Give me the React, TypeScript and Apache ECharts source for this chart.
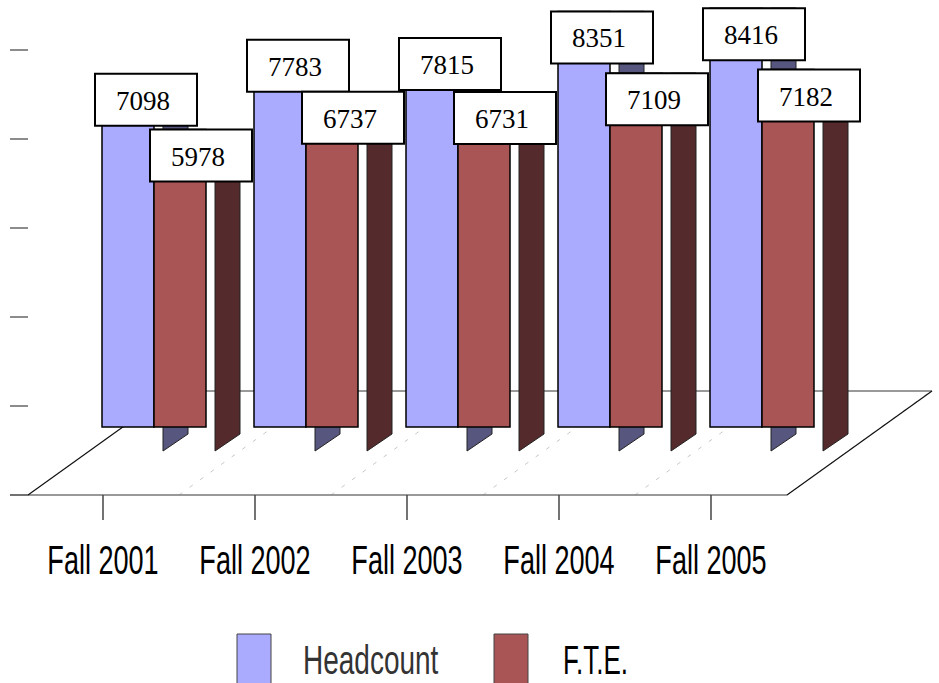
import React, { useEffect, useRef } from 'react';
import * as echarts from 'echarts';

const categories = ['Fall 2001', 'Fall 2002', 'Fall 2003', 'Fall 2004', 'Fall 2005'];
const headcount = [7098, 7783, 7815, 8351, 8416];
const fte = [5978, 6737, 6731, 7109, 7182];
const seriesNames = ['Headcount', 'F.T.E.'];
const seriesColors = ['#AAAAFF', '#AA5555'];

const SANS = "'Liberation Sans', Arial, sans-serif";
const SERIF = "'Liberation Serif', 'Times New Roman', serif";

function barRenderer(offset: number, front: string, topFace: string, side: string) {
  return (params: any, api: any) => {
    const i = api.value(0);
    const v = api.value(1);
    const p = api.coord([i, v]);
    const x = p[0];
    const yTop = p[1];
    const yBase = api.coord([i, 0])[1];
    const w = 52;
    const x0 = x + offset;
    const r = x0 + w;
    return {
      type: 'group',
      children: [
        {
          type: 'polygon',
          shape: { points: [[r + 9, yTop], [r + 34, yTop], [r + 34, yBase + 7], [r + 9, yBase + 24]] },
          style: { fill: side, stroke: '#222', lineWidth: 1 },
        },
        {
          type: 'polygon',
          shape: { points: [[r, yTop], [r + 34, yTop], [r + 9, yTop + 17], [r, yTop + 17]] },
          style: { fill: topFace, stroke: '#222', lineWidth: 1 },
        },
        {
          type: 'rect',
          shape: { x: x0, y: yTop, width: w, height: yBase - yTop },
          style: { fill: front, stroke: '#000', lineWidth: 1.5 },
        },
      ],
    };
  };
}

function labelRenderer(params: any, api: any) {
  const i = api.value(0);
  const x = api.coord([i, 0])[0];
  const mk = (cx: number, v: number) => {
    const yt = api.coord([i, v])[1];
    return [
      {
        type: 'rect',
        shape: { x: cx - 51, y: yt, width: 102, height: 52 },
        style: { fill: '#fff', stroke: '#000', lineWidth: 2 },
      },
      {
        type: 'text',
        x: cx - 3,
        y: yt + 27,
        style: {
          text: String(v),
          fontSize: 27,
          fontFamily: SERIF,
          fill: '#000',
          align: 'center',
          verticalAlign: 'middle',
        },
      },
    ];
  };
  return {
    type: 'group',
    children: [...mk(x + 43, api.value(1)), ...mk(x + 98, api.value(2))],
  };
}

function categoryLabelRenderer(params: any, api: any) {
  const i = api.value(0);
  const x = api.coord([i, 0])[0];
  return {
    type: 'text',
    x,
    y: 560,
    scaleX: 0.66,
    style: {
      text: categories[i],
      fontSize: 41,
      fontFamily: SANS,
      fill: '#000',
      align: 'center',
      verticalAlign: 'middle',
    },
  };
}

export default function App() {
  const ref = useRef<HTMLDivElement>(null);
  useEffect(() => {
    if (!ref.current) return;
    const chart = echarts.init(ref.current, null, { renderer: 'svg' });
    const floorDashes = [0, 1, 2, 3, 4].map((k) => ({
      type: 'line',
      z: -5,
      shape: { x1: 179 + 152 * k, y1: 495, x2: 179 + 152 * k + 144, y2: 391 },
      style: { stroke: '#c8c8c8', lineWidth: 1, lineDash: [4, 9] },
    }));
    const legendX = [237, 494];
    const legendTextX = [303, 563];
    const legendScale = [0.7, 0.65];
    const legendTextColor = ['#333', '#000'];
    const legendItems: any[] = [];
    seriesNames.forEach((name, k) => {
      legendItems.push({
        type: 'rect',
        z: 10,
        shape: { x: legendX[k], y: 634, width: 34, height: 56 },
        style: { fill: seriesColors[k], stroke: '#444', lineWidth: 1 },
      });
      legendItems.push({
        type: 'text',
        z: 10,
        x: legendTextX[k],
        y: 660,
        scaleX: legendScale[k],
        style: {
          text: name,
          fontSize: 40,
          fontFamily: SANS,
          fill: legendTextColor[k],
          align: 'left',
          verticalAlign: 'middle',
        },
      });
    });
    chart.setOption({
      animation: false,
      backgroundColor: '#fff',
      graphic: [
        ...floorDashes,
        { type: 'line', z: -5, shape: { x1: 173, y1: 391, x2: 932, y2: 391 }, style: { stroke: '#777', lineWidth: 1.5 } },
        { type: 'line', z: -5, shape: { x1: 10, y1: 495, x2: 787, y2: 495 }, style: { stroke: '#777', lineWidth: 1.5 } },
        { type: 'line', z: -5, shape: { x1: 28, y1: 495, x2: 173, y2: 391 }, style: { stroke: '#111', lineWidth: 1.2 } },
        { type: 'line', z: -5, shape: { x1: 787, y1: 495, x2: 932, y2: 391 }, style: { stroke: '#111', lineWidth: 1.2 } },
        ...legendItems,
      ],
      grid: [
        { left: 103, right: 228, top: 4, bottom: 256 },
        { left: 28, right: 880, top: 50, bottom: 188 },
        { left: 103, right: 228, top: 300, bottom: 188 },
      ],
      xAxis: [
        {
          type: 'category',
          gridIndex: 0,
          data: categories,
          boundaryGap: false,
          show: false,
        },
        { type: 'value', gridIndex: 1, show: false },
        {
          type: 'category',
          gridIndex: 2,
          data: categories,
          boundaryGap: false,
          axisLine: { show: false },
          axisTick: { show: true, length: 25, lineStyle: { color: '#444', width: 1.5 } },
          axisLabel: { show: false },
          splitLine: { show: false },
        },
      ],
      yAxis: [
        { type: 'value', gridIndex: 0, min: 0, max: 8500, show: false },
        {
          type: 'value',
          gridIndex: 1,
          min: 0,
          max: 5,
          interval: 1,
          axisLine: { show: false },
          axisTick: { show: true, length: 18, lineStyle: { color: '#666', width: 1.5 } },
          axisLabel: { show: false },
          splitLine: { show: false },
        },
        { type: 'value', gridIndex: 2, show: false },
      ],
      series: [
        {
          name: seriesNames[0],
          type: 'custom',
          xAxisIndex: 0,
          yAxisIndex: 0,
          itemStyle: { color: seriesColors[0] },
          data: headcount.map((v, i) => [i, v]),
          encode: { x: 0, y: 1 },
          renderItem: barRenderer(-1, seriesColors[0], '#8585C8', '#56567F'),
          z: 2,
        },
        {
          name: seriesNames[1],
          type: 'custom',
          xAxisIndex: 0,
          yAxisIndex: 0,
          itemStyle: { color: seriesColors[1] },
          data: fte.map((v, i) => [i, v]),
          encode: { x: 0, y: 1 },
          renderItem: barRenderer(51, seriesColors[1], '#8A4343', '#552A2C'),
          z: 2,
        },
        {
          name: 'labels',
          type: 'custom',
          xAxisIndex: 0,
          yAxisIndex: 0,
          silent: true,
          data: headcount.map((v, i) => [i, v, fte[i]]),
          encode: { x: 0, y: [1, 2] },
          renderItem: labelRenderer,
          z: 4,
        },
        {
          name: 'categoryLabels',
          type: 'custom',
          xAxisIndex: 0,
          yAxisIndex: 0,
          silent: true,
          data: categories.map((c, i) => [i, 0]),
          encode: { x: 0, y: 1 },
          renderItem: categoryLabelRenderer,
          z: 4,
        },
      ],
    });
    return () => chart.dispose();
  }, []);
  return (
    <div
      ref={ref}
      style={{ position: 'fixed', left: 0, top: 0, width: 939, height: 683 }}
    />
  );
}
